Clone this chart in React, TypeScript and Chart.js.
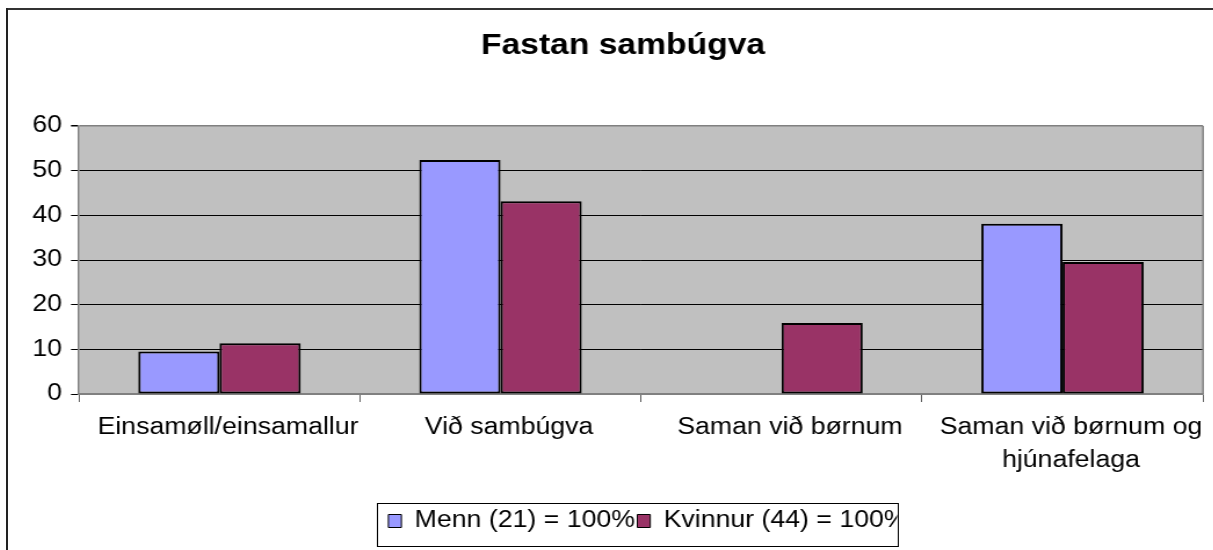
import React, { useEffect, useRef } from "react";
import { Chart, registerables } from "chart.js";

Chart.register(...registerables);

// ---- data ----
const titleText = "Fastan sambúgva";
const categories: (string | string[])[] = [
  "Einsamøll/einsamallur",
  "Við sambúgva",
  "Saman við børnum",
  ["Saman við børnum og", "hjúnafelaga"],
];
const seriesNames = ["Menn (21) = 100%", "Kvinnur (44) = 100%"];
const menn = [9.52, 52.38, 0, 38.1];
const kvinnur = [11.36, 43.18, 15.91, 29.55];
const yTicks = [0, 10, 20, 30, 40, 50, 60];

// ---- styling ----
const S = 1.16; // horizontal stretch of the original picture
const CW = 1039;
const CH = 540;
const FONT = "'Liberation Sans', Arial, Helvetica, sans-serif";
const colors = ["#9999FF", "#993366"];

export default function App() {
  const ref = useRef<HTMLCanvasElement>(null);

  useEffect(() => {
    document.documentElement.style.overflow = "hidden";
    if (!ref.current) return;

    const framePlugin = {
      id: "framePlugin",
      afterLayout(chart: any) {
        const t = chart.titleBlock;
        if (t) t.left += 30.2;
        const lg = chart.legend;
        if (lg) {
          const dx = 6;
          lg.left += dx;
          lg.right += dx;
          (lg.legendHitBoxes || []).forEach((h: any) => (h.left += dx));
        }
      },
      beforeDraw(chart: any) {
        const { ctx, chartArea: a } = chart;
        ctx.save();
        ctx.fillStyle = "#c0c0c0";
        ctx.fillRect(a.left, a.top, a.right - a.left, a.bottom - a.top);
        ctx.restore();
      },
      beforeDatasetsDraw(chart: any) {
        const { ctx, chartArea: a } = chart;
        ctx.save();
        ctx.strokeStyle = "#808080";
        ctx.lineWidth = 1.5;
        ctx.beginPath();
        ctx.moveTo(a.right, a.top);
        ctx.lineTo(a.right, a.bottom);
        ctx.stroke();
        ctx.restore();
      },
      afterDraw(chart: any) {
        const lg = chart.legend;
        if (!lg || !lg.legendHitBoxes || !lg.legendHitBoxes.length) return;
        const hb = lg.legendHitBoxes;
        const { ctx } = chart;
        const cy = hb[0].top + 11.5;
        const left = hb[0].left - 10;
        const last = hb[hb.length - 1];
        const right = last.left + last.width - 9;
        ctx.save();
        ctx.fillStyle = "#ffffff";
        ctx.fillRect(right, cy - 17, 20, 42);
        ctx.strokeStyle = "#000000";
        ctx.lineWidth = 1;
        ctx.strokeRect(Math.round(left) + 0.5, Math.round(cy - 18.5) + 0.5, Math.round(right - left), 43);
        ctx.restore();
      },
    };

    const chart = new Chart(ref.current, {
      type: "bar",
      data: {
        labels: categories,
        datasets: [
          {
            label: seriesNames[0],
            data: menn,
            backgroundColor: colors[0],
            borderColor: "#000000",
            borderWidth: 2,
            borderSkipped: false,
          },
          {
            label: seriesNames[1],
            data: kvinnur,
            backgroundColor: colors[1],
            borderColor: "#000000",
            borderWidth: 2,
            borderSkipped: false,
          },
        ],
      },
      options: {
        responsive: false,
        animation: false,
        font: { family: FONT },
        layout: { padding: { left: 0, right: 8.8, top: 0, bottom: 7.5 } },
        datasets: { bar: { categoryPercentage: 0.578, barPercentage: 1 } },
        plugins: {
          title: {
            display: true,
            text: titleText,
            color: "#000000",
            font: { family: FONT, size: 29, weight: "bold" },
            padding: { top: 18.6, bottom: 62.6 },
          },
          legend: {
            display: true,
            position: "bottom",
            fullSize: false,
            labels: {
              color: "#000000",
              font: { family: FONT, size: 23 },
              boxWidth: 11.2,
              boxHeight: 13,
              padding: 2,
              generateLabels: (c: any) =>
                Chart.defaults.plugins.legend.labels
                  .generateLabels(c)
                  .map((l: any) => ({ ...l, lineWidth: 1, strokeStyle: "#000000" })),
            },
          },
          tooltip: { enabled: false },
        },
        scales: {
          x: {
            offset: true,
            grid: {
              offset: true,
              drawOnChartArea: false,
              drawTicks: true,
              tickLength: 8,
              tickColor: "#606060",
            },
            border: { display: true, color: "#808080", width: 1.5 },
            ticks: {
              color: "#000000",
              font: { family: FONT, size: 23, lineHeight: 1.435 },
              padding: 9.5,
              labelOffset: 7.3,
              maxRotation: 0,
              autoSkip: false,
            },
            afterFit: (s: any) => {
              s.height = 113.5;
            },
          },
          y: {
            min: yTicks[0],
            max: yTicks[yTicks.length - 1],
            afterBuildTicks: (s: any) => {
              s.ticks = yTicks.map((v) => ({ value: v }));
            },
            grid: {
              color: (ctx: any) => {
                const v = ctx.tick ? ctx.tick.value : null;
                return v === yTicks[0] || v === yTicks[yTicks.length - 1] ? "#808080" : "#000000";
              },
              lineWidth: (ctx: any) => {
                const v = ctx.tick ? ctx.tick.value : null;
                return v === yTicks[yTicks.length - 1] ? 1.5 : 1;
              },
              tickLength: 6.9,
              tickColor: "#000000",
            },
            border: { display: true, color: "#808080", width: 1.5 },
            ticks: {
              color: "#000000",
              font: { family: FONT, size: 23 },
              padding: 7.7,
            },
            afterFit: (s: any) => {
              s.width = 61.2;
            },
          },
        },
      } as any,
      plugins: [framePlugin],
    });

    return () => chart.destroy();
  }, []);

  return (
    <div style={{ width: 1197, height: 534 }}>
      <div
        style={{
          position: "fixed",
          left: 6,
          top: 8,
          width: 1207,
          height: 2,
          background: "#333333",
        }}
      />
      <div
        style={{
          position: "fixed",
          left: 6,
          top: 8,
          width: 2,
          height: 542,
          background: "#222222",
        }}
      />
      <div
        style={{
          position: "fixed",
          left: 8,
          top: 10,
          width: CW,
          height: CH,
          transform: `scaleX(${S})`,
          transformOrigin: "0 0",
        }}
      >
        <canvas ref={ref} width={CW} height={CH} style={{ display: "block" }} />
      </div>
    </div>
  );
}
